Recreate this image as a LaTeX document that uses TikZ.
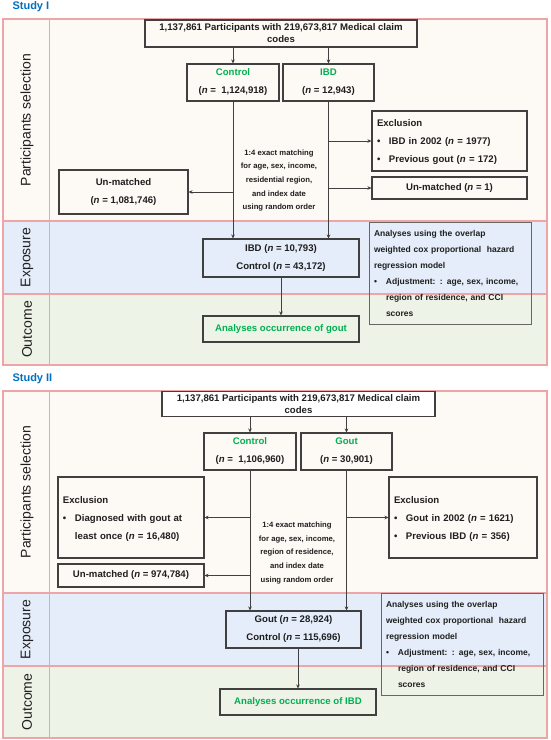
\documentclass[tikz,border=0pt]{standalone}
\usepackage{fontspec}
\setmainfont{Liberation Sans}
\usetikzlibrary{arrows.meta}
\definecolor{boxc}{HTML}{404040}
\definecolor{pinkb}{HTML}{EFA5A5}
\definecolor{bandP}{HTML}{FDF9F5}
\definecolor{bandE}{HTML}{E4EDF9}
\definecolor{bandO}{HTML}{EEF3E7}
\definecolor{greenT}{HTML}{00B050}
\definecolor{blueT}{HTML}{0070C0}
\tikzset{
  band/.style={draw=pinkb, line width=1.2pt},
  sep/.style={draw=pinkb, line width=0.8pt},
  box/.style={draw=boxc, line width=1.05pt, inner sep=3pt, align=center, text=black!88,
    font=\fontsize{9.6}{18}\selectfont\bfseries},
  lbox/.style={draw=boxc, line width=1.05pt, inner xsep=5pt, inner ysep=3pt, align=left, text=black!88,
    font=\fontsize{9.6}{18}\selectfont\bfseries},
  abox/.style={draw=boxc!80, line width=1pt, inner xsep=5pt, inner ysep=3pt, align=left, text=black!88,
    font=\fontsize{8.5}{16}\selectfont\bfseries},
  midtxt/.style={align=center, text=black!88, font=\fontsize{7.7}{13.7}\selectfont\bfseries},
  side/.style={rotate=90, text=black!88, font=\fontsize{14}{16}\selectfont},
  study/.style={anchor=west, text=blueT, font=\fontsize{11}{13}\selectfont\bfseries},
  arr/.style={draw=boxc, line width=0.8pt, -{Stealth[length=4pt,width=3.6pt]}},
  grn/.style={text=greenT}
}
\newcommand{\bul}{\makebox[12pt][l]{\textbullet}}
\newcommand{\ind}{\hspace*{12pt}}
\newenvironment{lines}{\begin{tabular}{@{}l@{}}}{\end{tabular}}
\begin{document}
\begin{tikzpicture}[x=1pt,y=-1pt]
\useasboundingbox (0,0) rectangle (550,740);
\fill[white] (0,0) rectangle (550,740);

% ---------------- Study I ----------------
\node[study] (titleI) at (9,7) {Study I};
\draw[band, fill=bandP] (3,19) rectangle (547,221);
\draw[band, fill=bandE] (3,221) rectangle (547,294);
\draw[band, fill=bandO] (3,294) rectangle (547,365);
\draw[sep] (49,19) -- (49,365);
\node[side] (sp1) at (27,120) {Participants selection};
\node[side] (se1) at (27,257.5) {Exposure};
\node[side] (so1) at (27,329.5) {Outcome};

\node[box, minimum width=272pt, minimum height=27pt, font=\fontsize{9.6}{12}\selectfont\bfseries] (top1) at (281,33.5)
  {1,137,861 Participants with 219,673,817 Medical claim\\codes};
\node[box, minimum width=92pt, minimum height=37pt] (ctrl1) at (233,82.5)
  {\textcolor{greenT}{Control}\\(\textit{n} =\ \ 1,124,918)};
\node[box, minimum width=91pt, minimum height=37pt] (ibd1) at (328.5,82.5)
  {\textcolor{greenT}{IBD}\\(\textit{n} = 12,943)};
\node[lbox, text width=145pt, minimum height=56pt] (excl1) at (449.5,141)
  {\begin{lines}Exclusion\\\bul IBD in 2002 (\textit{n} = 1977)\\\bul Previous gout (\textit{n} = 172)\end{lines}};
\node[box, minimum width=155pt, minimum height=22pt] (unm1r) at (449.5,188)
  {Un-matched (\textit{n} = 1)};
\node[box, minimum width=129pt, minimum height=44pt] (unm1l) at (123.5,192)
  {Un-matched\\(\textit{n} = 1,081,746)};
\node[midtxt] (match1) at (279,180.5)
  {1:4 exact matching\\for age, sex, income,\\residential region,\\and index date\\using random order};
\node[box, minimum width=156pt, minimum height=38pt, fill=bandE] (expo1) at (281,258)
  {IBD (\textit{n} = 10,793)\\Control (\textit{n} = 43,172)};
\node[box, minimum width=156pt, minimum height=26pt, fill=bandO] (out1) at (281,329)
  {\textcolor{greenT}{Analyses occurrence of gout}};
\node[abox, text width=152pt, minimum height=98pt] (ana1) at (450,273)
  {\begin{lines}Analyses using the overlap\\weighted cox proportional\ \ hazard\\regression model\\
   \bul Adjustment: : age, sex, income,\\\ind region of residence, and CCI\\\ind scores\end{lines}};

\draw[arr] (top1.south -| ctrl1.north) -- (ctrl1.north);
\draw[arr] (top1.south -| ibd1.north) -- (ibd1.north);
\draw[arr] (ctrl1.south) -- (ctrl1.south |- expo1.north);
\draw[arr] (ibd1.south) -- (ibd1.south |- expo1.north);
\draw[arr] (ibd1.south |- excl1.west) -- (excl1.west);
\draw[arr] (ibd1.south |- unm1r.west) -- (unm1r.west);
\draw[arr] (ctrl1.south |- unm1l.east) -- (unm1l.east);
\draw[arr] (expo1.south) -- (out1.north);

% ---------------- Study II ----------------
\node[study] (titleII) at (9,379) {Study II};
\draw[band, fill=bandP] (3,391) rectangle (547,593);
\draw[band, fill=bandE] (3,593) rectangle (547,666);
\draw[band, fill=bandO] (3,666) rectangle (547,738);
\draw[sep] (49,391) -- (49,738);
\node[side] (sp2) at (27,492) {Participants selection};
\node[side] (se2) at (27,629.5) {Exposure};
\node[side] (so2) at (27,702) {Outcome};

\node[box, minimum width=273pt, minimum height=25pt, fill=white, font=\fontsize{9.6}{12}\selectfont\bfseries] (top2) at (298.5,404)
  {1,137,861 Participants with 219,673,817 Medical claim\\codes};
\node[box, minimum width=92pt, minimum height=37pt] (ctrl2) at (250,451.5)
  {\textcolor{greenT}{Control}\\(\textit{n} =\ \ 1,106,960)};
\node[box, minimum width=91pt, minimum height=37pt] (gout2) at (346.5,451.5)
  {\textcolor{greenT}{Gout}\\(\textit{n} = 30,901)};
\node[lbox, text width=136pt, minimum height=81pt] (excl2l) at (131,517.5)
  {\begin{lines}Exclusion\\\bul Diagnosed with gout at\\\ind least once (\textit{n} = 16,480)\end{lines}};
\node[box, minimum width=146pt, minimum height=23pt] (unm2) at (131,575.5)
  {Un-matched (\textit{n} = 974,784)};
\node[lbox, text width=138pt, minimum height=81pt] (excl2r) at (463,517.5)
  {\begin{lines}Exclusion\\\bul Gout in 2002 (\textit{n} = 1621)\\\bul Previous IBD (\textit{n} = 356)\end{lines}};
\node[midtxt] (match2) at (297,553)
  {1:4 exact matching\\for age, sex, income,\\region of residence,\\and index date\\using random order};
\node[box, minimum width=135pt, minimum height=37pt, fill=bandE] (expo2) at (293.5,629.5)
  {Gout (\textit{n} = 28,924)\\Control (\textit{n} = 115,696)};
\node[box, minimum width=156pt, minimum height=26pt, fill=bandO] (out2) at (298,702)
  {\textcolor{greenT}{Analyses occurrence of IBD}};
\node[abox, text width=152pt, minimum height=99pt] (ana2) at (462,644.5)
  {\begin{lines}Analyses using the overlap\\weighted cox proportional\ \ hazard\\regression model\\
   \bul Adjustment: : age, sex, income,\\\ind region of residence, and CCI\\\ind scores\end{lines}};

\draw[arr] (top2.south -| ctrl2.north) -- (ctrl2.north);
\draw[arr] (top2.south -| gout2.north) -- (gout2.north);
\draw[arr] (ctrl2.south) -- (ctrl2.south |- expo2.north);
\draw[arr] (gout2.south) -- (gout2.south |- expo2.north);
\draw[arr] (ctrl2.south |- excl2l.east) -- (excl2l.east);
\draw[arr] (ctrl2.south |- unm2.east) -- (unm2.east);
\draw[arr] (gout2.south |- excl2r.west) -- (excl2r.west);
\draw[arr] (out2.north |- expo2.south) -- (out2.north);
\end{tikzpicture}
\end{document}
